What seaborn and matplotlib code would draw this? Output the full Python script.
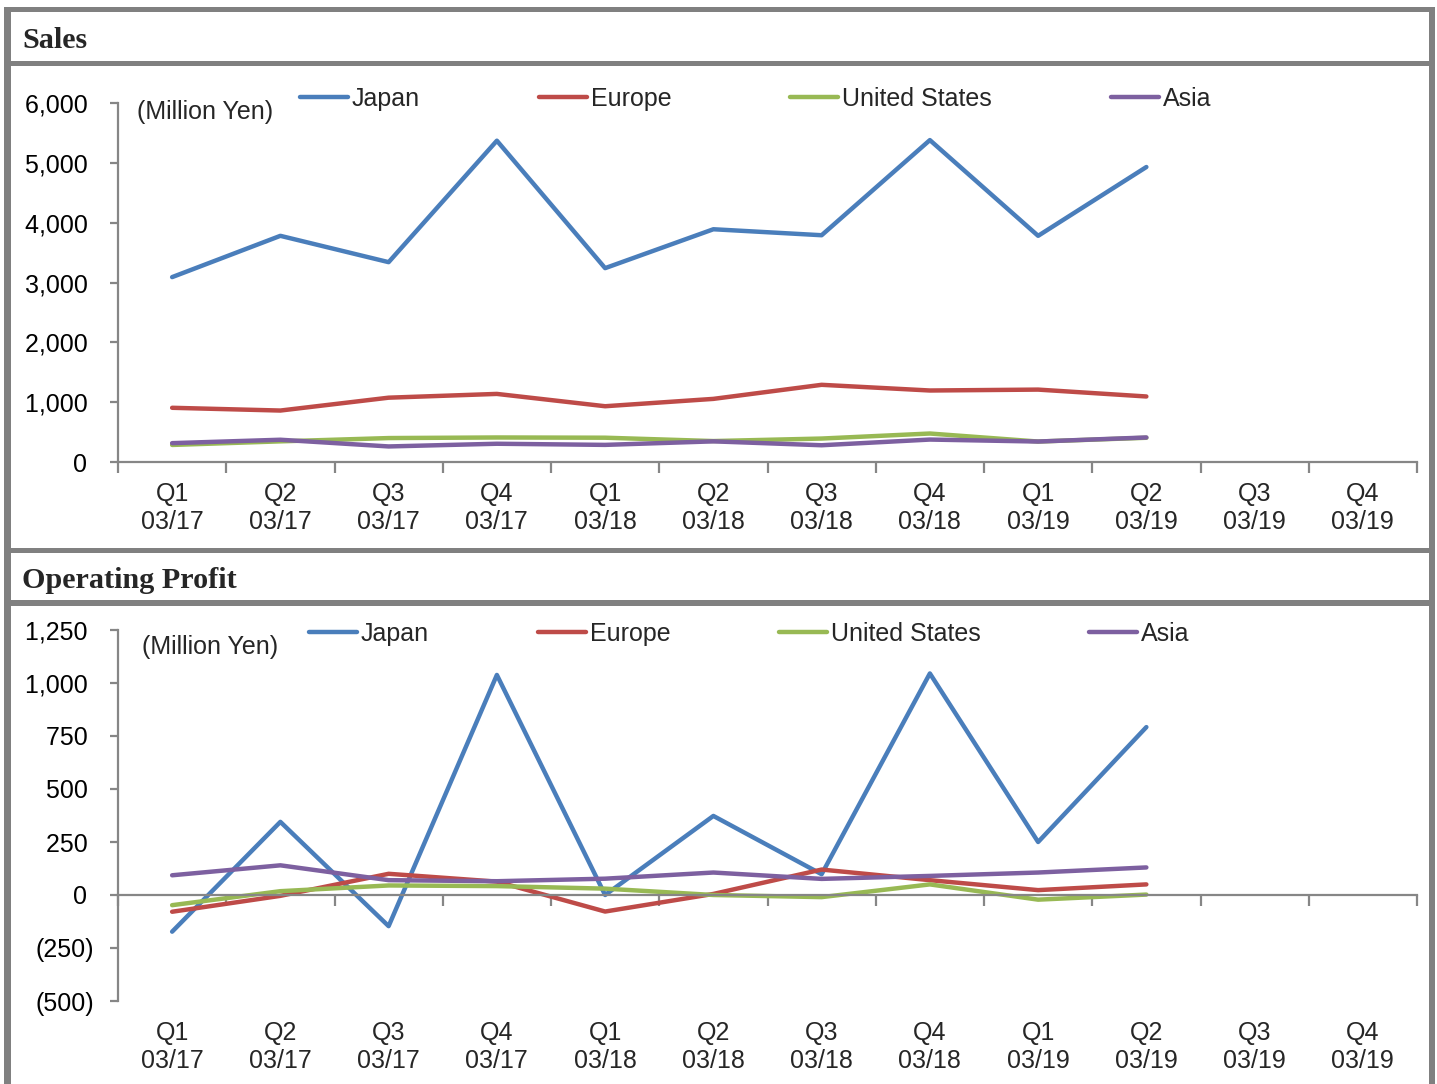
import numpy as np
import pandas as pd
import matplotlib
matplotlib.use("Agg")
import matplotlib.pyplot as plt
from matplotlib.patches import Rectangle
from matplotlib.ticker import FuncFormatter, FixedLocator, NullFormatter
import seaborn as sns

# ---------------- data ----------------
quarters = ["Q1\n03/17", "Q2\n03/17", "Q3\n03/17", "Q4\n03/17",
            "Q1\n03/18", "Q2\n03/18", "Q3\n03/18", "Q4\n03/18",
            "Q1\n03/19", "Q2\n03/19", "Q3\n03/19", "Q4\n03/19"]
regions = ["Japan", "Europe", "United States", "Asia"]

sales_japan = [3090, 3780, 3340, 5370, 3240, 3890, 3790, 5380, 3780, 4930]
sales_europe = [906, 860, 1075, 1138, 932, 1055, 1290, 1195, 1210, 1095]
sales_us = [285, 345, 400, 410, 406, 350, 392, 476, 342, 405]
sales_asia = [315, 372, 260, 305, 286, 345, 280, 375, 342, 410]

profit_japan = [-173, 345, -147, 1038, 0, 373, 98, 1045, 250, 792]
profit_europe = [-79, -4, 100, 63, -78, 5, 120, 70, 23, 50]
profit_us = [-48, 18, 45, 42, 30, 0, -10, 50, -22, 2]
profit_asia = [93, 140, 70, 65, 77, 106, 76, 90, 106, 130]

sales_ticks = [0, 1000, 2000, 3000, 4000, 5000, 6000]
profit_ticks = [-500, -250, 0, 250, 500, 750, 1000, 1250]

colors = ["#4A7EBB", "#BE4B48", "#98B954", "#7D60A0"]


def long_frame(series):
    rows = []
    for reg, vals in zip(regions, series):
        for i, v in enumerate(vals):
            rows.append({"pos": i, "quarter": quarters[i], "region": reg, "value": v})
    return pd.DataFrame(rows)


sales_df = long_frame([sales_japan, sales_europe, sales_us, sales_asia])
profit_df = long_frame([profit_japan, profit_europe, profit_us, profit_asia])

# ---------------- figure ----------------
sns.set_style("white")
plt.rcParams["font.family"] = ["Liberation Sans", "DejaVu Sans"]

W, H = 1437, 1084
fig = plt.figure(figsize=(W / 100, H / 100), dpi=100)
fig.patch.set_facecolor("white")

GRAY = "#808080"
AXGRAY = "#868686"


def rect_px(x0, y0, x1, y1, color):
    r = Rectangle((x0 / W, 1 - y1 / H), (x1 - x0) / W, (y1 - y0) / H,
                  transform=fig.transFigure, facecolor=color, edgecolor="none",
                  zorder=-10)
    fig.add_artist(r)


# frame
rect_px(4, 7, 1435, H + 5, GRAY)
rect_px(11, 12, 1429, 61, "white")
rect_px(11, 66, 1429, 548, "white")
rect_px(11, 553, 1429, 600, "white")
rect_px(11, 606, 1429, H + 5, "white")

fig.text(22 / W, 1 - 40 / H, "Sales", family=["Liberation Serif", "DejaVu Serif"],
         fontweight="bold", fontsize=21.7, va="center", ha="left")
fig.text(22 / W, 1 - 580 / H, "Operating Profit", family=["Liberation Serif", "DejaVu Serif"],
         fontweight="bold", fontsize=21.7, va="center", ha="left")


def fmt(v, _pos=None):
    if v < 0:
        return f"({abs(v):,.0f})"
    return f"{v:,.0f} "


def make_axes(top_px, bottom_px):
    left_px, right_px = 118, 1417
    return fig.add_axes([left_px / W, 1 - bottom_px / H,
                         (right_px - left_px) / W, (bottom_px - top_px) / H])


def style_axes(ax, df, yticks, zero_axis, leg_xy, colspace):
    sns.lineplot(data=df, x="pos", y="value", hue="region", hue_order=regions,
                 palette=colors, linewidth=3.2, ax=ax, legend=False, sort=False)
    ax.set_facecolor("none")
    ax.set_xlim(-0.5, 11.5)
    ax.set_ylim(yticks[0], yticks[-1])
    ax.set_xlabel("")
    ax.set_ylabel("")
    for s in ["top", "right"]:
        ax.spines[s].set_visible(False)
    for s in ["left", "bottom"]:
        ax.spines[s].set_color(AXGRAY)
        ax.spines[s].set_linewidth(1.6)
    if zero_axis:
        ax.spines["bottom"].set_position(("data", 0))
    ax.yaxis.set_major_locator(FixedLocator(yticks))
    ax.yaxis.set_major_formatter(FuncFormatter(fmt))
    ax.tick_params(axis="y", which="major", left=True, direction="out", length=6,
                   width=1.6, color=AXGRAY, labelsize=18, pad=11, labelcolor="black")
    # boundaries as ticks
    ax.xaxis.set_major_locator(FixedLocator(np.arange(-0.5, 12.0, 1.0)))
    ax.xaxis.set_major_formatter(NullFormatter())
    ax.tick_params(axis="x", which="major", bottom=True, direction="out", length=8,
                   width=1.6, color=AXGRAY)
    # category labels at the bottom of the axes
    for i, q in enumerate(quarters):
        ax.annotate(q, xy=(i, 0), xycoords=("data", "axes fraction"),
                    xytext=(0, -14.5), textcoords="offset points",
                    ha="center", va="top", fontsize=18, linespacing=1.2)
    ax.grid(False)
    handles = ax.get_lines()[:4]
    leg = fig.legend(handles, regions, loc="center left",
                     bbox_to_anchor=(leg_xy[0] / W, 1 - leg_xy[1] / H),
                     bbox_transform=fig.transFigure, ncol=4, frameon=False,
                     fontsize=18, borderpad=0, borderaxespad=0,
                     handlelength=1.92, handletextpad=0.16,
                     columnspacing=colspace)
    return leg


ax1 = make_axes(103, 462)
style_axes(ax1, sales_df, sales_ticks, False, (300, 99), 4.75)
fig.text(137 / W, 1 - 112 / H, "(Million Yen)", fontsize=18, va="center", ha="left")

ax2 = make_axes(630, 1001)
style_axes(ax2, profit_df, profit_ticks, True, (309, 634), 4.34)
fig.text(142 / W, 1 - 647 / H, "(Million Yen)", fontsize=18, va="center", ha="left")

fig.savefig("out.png", dpi=100, facecolor="white")
